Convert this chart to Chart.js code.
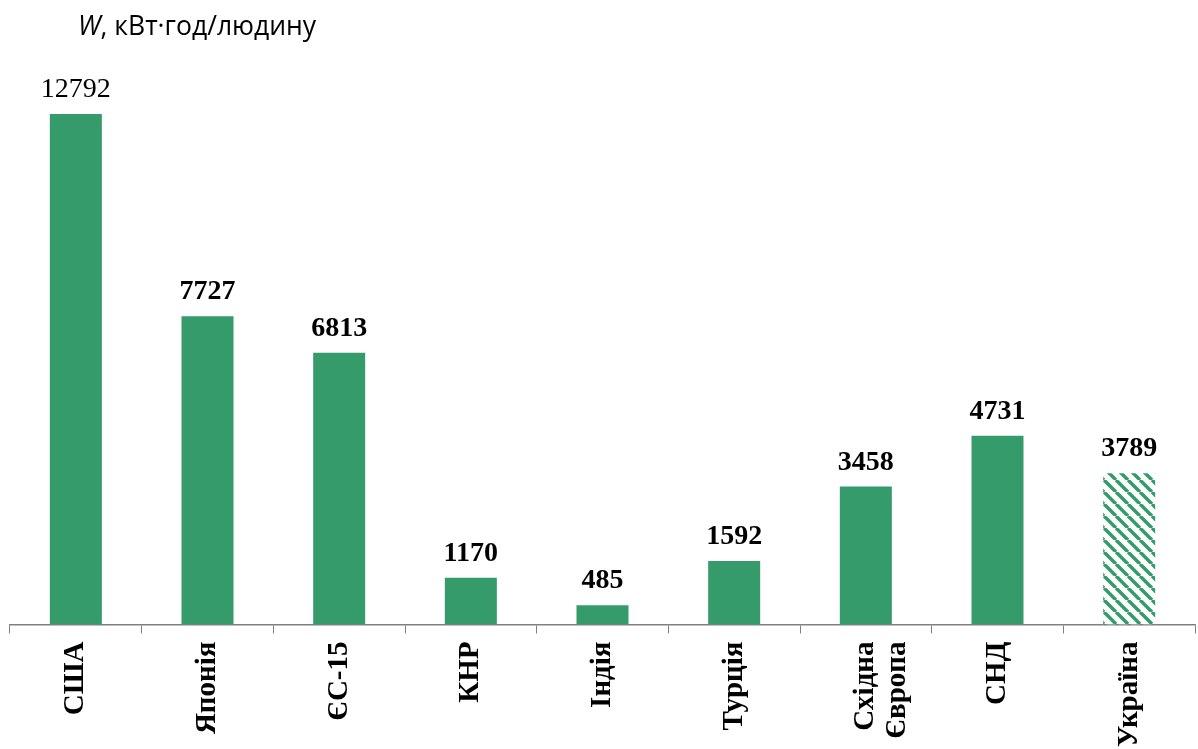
<!DOCTYPE html>
<html>
<head>
<meta charset="utf-8">
<script src="https://cdn.jsdelivr.net/npm/chart.js@4"></script>
<style>
  body { margin: 0; background: #fff; }
  #wrap { width: 1198px; height: 749px; position: relative; }
</style>
</head>
<body>
<div id="wrap"><canvas id="chart"></canvas></div>
<script>
var categories = ['США', 'Японія', 'ЄС-15', 'КНР', 'Індія', 'Турція', ['Східна', 'Європа'], 'СНД', 'Україна']
var values = [12792, 7727, 6813, 1170, 485, 1592, 3458, 4731, 3789]
var boldLabel = [false, true, true, true, true, true, true, true, true]

var green = '#369b6a'

// hatch for the last bar
function makeHatch() {
    var c = document.createElement('canvas')
    c.width = 12; c.height = 12
    var g = c.getContext('2d')
    g.fillStyle = '#fff'
    g.fillRect(0, 0, 12, 12)
    g.strokeStyle = green
    g.lineWidth = 3.5
    g.beginPath()
    for (var k = -12; k <= 24; k += 12) {
        g.moveTo(k, 0)
        g.lineTo(k + 12, 12)
    }
    g.stroke()
    var ctx = document.getElementById('chart').getContext('2d')
    return ctx.createPattern(c, 'repeat')
}

var colors = values.map(function (v, i) { return i === values.length - 1 ? makeHatch() : green })

var valueLabels = {
    id: 'valueLabels',
    afterDatasetsDraw: function (chart) {
        var ctx = chart.ctx
        var meta = chart.getDatasetMeta(0)
        ctx.save()
        ctx.fillStyle = '#000'
        ctx.textAlign = 'center'
        ctx.textBaseline = 'alphabetic'
        meta.data.forEach(function (bar, i) {
            ctx.font = (boldLabel[i] ? 'bold ' : '') + '28px "Liberation Serif"'
            ctx.fillText(values[i], bar.x, bar.y - 17)
        })
        // axis title
        ctx.textAlign = 'left'
        ctx.font = 'italic 26.5px "Open Sans"'
        ctx.fillText('W', 78, 35)
        var w = ctx.measureText('W').width
        ctx.font = '26.5px "Open Sans"'
        ctx.fillText(', кВт·год/людину', 78 + w, 35)
        ctx.restore()
    }
}

new Chart(document.getElementById('chart'), {
    type: 'bar',
    data: {
        labels: categories,
        datasets: [{
            data: values,
            backgroundColor: colors,
            barPercentage: 0.79,
            categoryPercentage: 0.5
        }]
    },
    options: {
        responsive: true,
        maintainAspectRatio: false,
        animation: false,
        layout: { padding: { left: 10, right: 3, top: 26, bottom: -6 } },
        plugins: { legend: { display: false }, tooltip: { enabled: false } },
        scales: {
            y: { display: false, min: 0, max: 15000 },
            x: {
                grid: { offset: true, drawOnChartArea: false, tickLength: 9, color: '#808080' },
                border: { color: '#808080', width: 1.5 },
                ticks: {
                    minRotation: 90, maxRotation: 90,
                    color: '#000',
                    padding: 8,
                    font: { family: 'Liberation Serif', size: 29, weight: 'bold', lineHeight: 1.1 }
                }
            }
        }
    },
    plugins: [valueLabels]
})
</script>
</body>
</html>
